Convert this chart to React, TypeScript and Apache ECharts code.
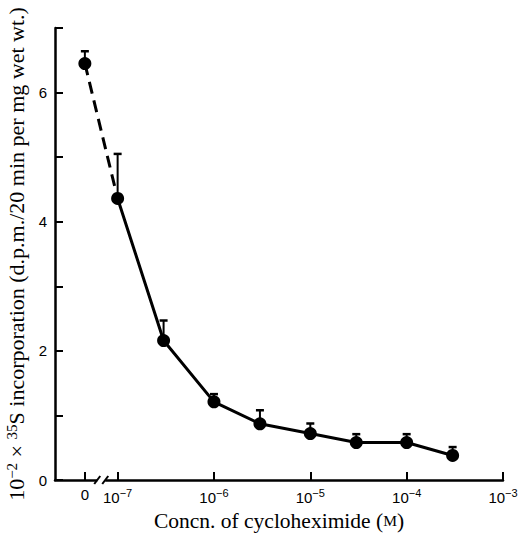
import React, { useEffect, useRef } from "react";
import * as echarts from "echarts";

// Cycloheximide concentration (M); 0 is the control, plotted left of the axis break
const concentrations = [0, 1e-7, 3e-7, 1e-6, 3e-6, 1e-5, 3e-5, 1e-4, 3e-4];
// 10^-2 x 35S incorporation (d.p.m./20 min per mg wet wt.)
const incorporation = [6.45, 4.36, 2.16, 1.21, 0.87, 0.72, 0.58, 0.58, 0.38];
// Upper error (S.E.M.) above each mean
const errorUp = [0.19, 0.69, 0.31, 0.12, 0.21, 0.155, 0.13, 0.13, 0.13];

const xDecades = [-7, -6, -5, -4, -3];
const yLabelled = [0, 2, 4, 6];

// position (log10 units) at which the zero-concentration control is drawn
const ZERO_POS = -7.34;
const BREAK_POS = -7.17;
const X_MIN = -7.65;
const X_MAX = -3;

const toX = (c: number) => (c === 0 ? ZERO_POS : Math.log10(c));
const minus = (k: number) => (k < 0 ? "−" + Math.abs(k) : String(k));

export default function App() {
  const ref = useRef<HTMLDivElement>(null);

  useEffect(() => {
    if (!ref.current) return;
    const chart = echarts.init(ref.current, null, { renderer: "svg" });

    const pts = concentrations.map((c, i) => [toX(c), incorporation[i]]);
    const errs = concentrations.map((c, i) => [toX(c), incorporation[i], incorporation[i] + errorUp[i]]);

    const serif = "'Liberation Serif', 'Times New Roman', serif";
    const sans = "'Liberation Sans', Arial, sans-serif";

    chart.setOption({
      animation: false,
      grid: { left: 55, right: 23, top: 28, bottom: 53, containLabel: false, outerBoundsMode: "none" },
      xAxis: {
        type: "value",
        min: X_MIN,
        max: X_MAX,
        splitLine: { show: false },
        axisLine: { show: true, lineStyle: { color: "#000", width: 2.5 } },
        axisTick: {
          show: true,
          inside: true,
          length: 8,
          lineStyle: { color: "#000", width: 2 },
          customValues: [ZERO_POS, ...xDecades],
        },
        axisLabel: {
          show: true,
          margin: 7,
          customValues: [ZERO_POS, ...xDecades],
          formatter: (v: number) => {
            if (Math.abs(v - ZERO_POS) < 1e-6) return "{b|0}";
            return "{b|10}{s|" + minus(Math.round(v)) + "}";
          },
          rich: {
            b: { fontFamily: sans, fontSize: 15, color: "#000", verticalAlign: "bottom" },
            s: { fontFamily: sans, fontSize: 11, color: "#000", verticalAlign: "bottom", padding: [0, 0, 7, 0] },
          },
        },
        name: "{t|Concn. of cycloheximide (}{m|M}{t|)}",
        nameLocation: "middle",
        nameGap: 28,
        nameTextStyle: {
          lineHeight: 21,
          rich: {
            t: { fontFamily: serif, fontSize: 21.5, lineHeight: 21, color: "#000" },
            m: { fontFamily: serif, fontSize: 15.5, lineHeight: 21, color: "#000" },
          },
        },
      },
      yAxis: {
        type: "value",
        min: 0,
        max: 7,
        interval: 1,
        splitLine: { show: false },
        axisLine: { show: true, lineStyle: { color: "#000", width: 2.5 } },
        axisTick: { show: true, inside: true, length: 8, lineStyle: { color: "#000", width: 2 } },
        axisLabel: {
          margin: 8,
          fontFamily: sans,
          fontSize: 15,
          color: "#000",
          formatter: (v: number) => (yLabelled.includes(v) ? String(v) : ""),
        },
        name:
          "{t|10}{s|−2}{t| × }{s|35}{t|S incorporation (d.p.m./20 min per mg wet wt.)}",
        nameLocation: "middle",
        nameRotate: 90,
        nameGap: 27,
        nameTextStyle: {
          rich: {
            t: { fontFamily: serif, fontSize: 22, color: "#000", verticalAlign: "bottom" },
            s: { fontFamily: serif, fontSize: 15, color: "#000", verticalAlign: "bottom", padding: [0, 0, 8, 0] },
          },
        },
      },
      series: [
        {
          type: "custom",
          z: 1,
          data: errs,
          renderItem: (params: any, api: any) => {
            const x = api.value(0);
            const base = api.coord([x, api.value(1)]);
            const top = api.coord([x, api.value(2)]);
            const cap = 4;
            return {
              type: "group",
              children: [
                {
                  type: "line",
                  shape: { x1: base[0], y1: base[1], x2: top[0], y2: top[1] },
                  style: { stroke: "#000", lineWidth: 2 },
                },
                {
                  type: "line",
                  shape: { x1: top[0] - cap, y1: top[1], x2: top[0] + cap, y2: top[1] },
                  style: { stroke: "#000", lineWidth: 2.5 },
                },
              ],
            };
          },
        },
        {
          type: "line",
          z: 2,
          data: pts.slice(0, 2),
          symbol: "none",
          lineStyle: { color: "#000", width: 3, type: [12, 7] },
        },
        {
          type: "line",
          z: 3,
          data: pts.slice(1),
          symbol: "circle",
          symbolSize: 13,
          itemStyle: { color: "#000", opacity: 1 },
          lineStyle: { color: "#000", width: 3 },
        },
        {
          type: "scatter",
          z: 3,
          data: pts.slice(0, 1),
          symbol: "circle",
          symbolSize: 13,
          itemStyle: { color: "#000", opacity: 1 },
        },
      ],
    });

    // axis break marks on the x axis between the control and 10^-7
    const p = chart.convertToPixel({ gridIndex: 0 }, [BREAK_POS, 0]) as number[];
    if (p) {
      const cx = p[0];
      const cy = p[1];
      chart.setOption({
        graphic: [
          { type: "rect", shape: { x: cx - 4, y: cy - 3, width: 8, height: 6 }, style: { fill: "#fff" }, z: 100 },
          { type: "line", shape: { x1: cx - 7, y1: cy + 4, x2: cx - 1, y2: cy - 4 }, style: { stroke: "#000", lineWidth: 2 }, z: 101 },
          { type: "line", shape: { x1: cx + 1, y1: cy + 4, x2: cx + 7, y2: cy - 4 }, style: { stroke: "#000", lineWidth: 2 }, z: 101 },
        ],
      });
    }

    return () => chart.dispose();
  }, []);

  return <div ref={ref} style={{ width: 526, height: 533, position: "absolute", left: 0, top: 0 }} />;
}
